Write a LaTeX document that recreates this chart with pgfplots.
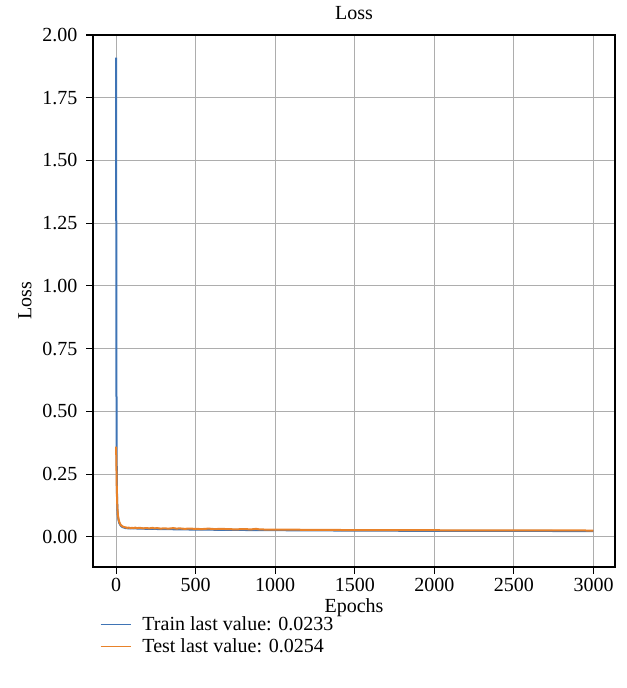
\documentclass[border=0pt]{standalone}
\usepackage{fontspec}
\setmainfont{Liberation Serif}
\usepackage{pgfplots}
\pgfplotsset{compat=1.18}
\definecolor{trainc}{HTML}{3F74B5}
\definecolor{testc}{HTML}{E8822A}
\begin{document}
\fontsize{15}{18}\selectfont
\begin{tikzpicture}
\path[use as bounding box] (0,0) rectangle (470.25pt,516pt);
\begin{axis}[
  at={(69.75pt,90.75pt)}, anchor=south west,
  scale only axis, width=391.5pt, height=399pt,
  xmin=-145, xmax=3135, ymin=-0.12, ymax=2.0,
  xtick={0,500,1000,1500,2000,2500,3000},
  ytick={0,0.25,0.5,0.75,1,1.25,1.5,1.75,2},
  yticklabel style={/pgf/number format/fixed, /pgf/number format/fixed zerofill, /pgf/number format/precision=2, xshift=-1.5pt},
  xticklabel style={/pgf/number format/fixed, /pgf/number format/1000 sep={}, yshift=2pt},
  /pgf/number format/assume math mode=true,
  tick label style={font=\fontsize{15}{18}\selectfont},
  label style={font=\fontsize{15}{18}\selectfont},
  title style={font=\fontsize{15}{18}\selectfont, yshift=0.5pt},
  title={Loss}, xlabel={Epochs}, ylabel={Loss},
  xlabel style={yshift=5pt},
  ylabel style={yshift=-2pt},
  grid=major, major grid style={color=black!32, line width=0.8pt},
  tick align=outside, xtick pos=bottom, ytick pos=left,
  major tick length=5pt,
  axis line style={line width=0.8pt},
  every tick/.style={black, line width=0.8pt},
  legend style={at={(0.013,-0.087)}, anchor=north west, draw=none, fill=none,
    font=\fontsize{15}{18}\selectfont, row sep=0pt, inner sep=0pt},
  legend cell align=left,
  legend image code/.code={\draw[#1] (0pt,0pt) -- (22.5pt,0pt); \path (29pt,0pt);},
]
\addlegendimage{color=trainc, line width=0.8pt}
\addlegendentry{Train last value: 0.0233}
\addlegendimage{color=testc, line width=0.8pt}
\addlegendentry{Test last value: 0.0254}
\addplot[color=trainc, line width=1.5pt, forget plot] coordinates {
(0,1.91) (1,1.30) (2,0.80) (3,0.43) (4,0.30) (5,0.22) (6,0.16) (8,0.115) (10,0.09)
(15,0.068) (20,0.055) (30,0.044) (40,0.039) (60,0.035) (80,0.034) (100,0.034)
(150,0.033) (200,0.032) (300,0.031) (400,0.030) (500,0.029) (700,0.028) (900,0.027)
(1200,0.026) (1500,0.025) (2000,0.024) (2500,0.0236) (2999,0.0233)
};
\addplot[color=testc, line width=1.5pt, forget plot] coordinates {
(0,0.36) (1,0.33) (2,0.29) (3,0.25) (4,0.21) (5,0.18) (6,0.155) (8,0.12) (10,0.10)
(12,0.085) (15,0.072) (20,0.060) (25,0.052) (30,0.047) (40,0.042) (50,0.039)
(60,0.038) (70,0.036) (80,0.037) (90,0.035) (100,0.036) (110,0.035) (120,0.037)
(130,0.035) (150,0.036) (170,0.034) (190,0.035) (210,0.034) (230,0.036) (240,0.034)
(260,0.035) (280,0.033) (300,0.034) (330,0.033) (360,0.035) (380,0.033) (400,0.034)
(430,0.032) (460,0.033) (500,0.032) (540,0.031) (580,0.033) (620,0.031) (660,0.032)
(700,0.031) (750,0.030) (800,0.031) (850,0.030) (880,0.032) (900,0.030) (950,0.029)
(1000,0.029) (1100,0.029) (1200,0.028) (1300,0.028) (1400,0.0275) (1500,0.027)
(1700,0.027) (2000,0.0265) (2300,0.026) (2600,0.0258) (2999,0.0254)
};
\end{axis}
\end{tikzpicture}
\end{document}
